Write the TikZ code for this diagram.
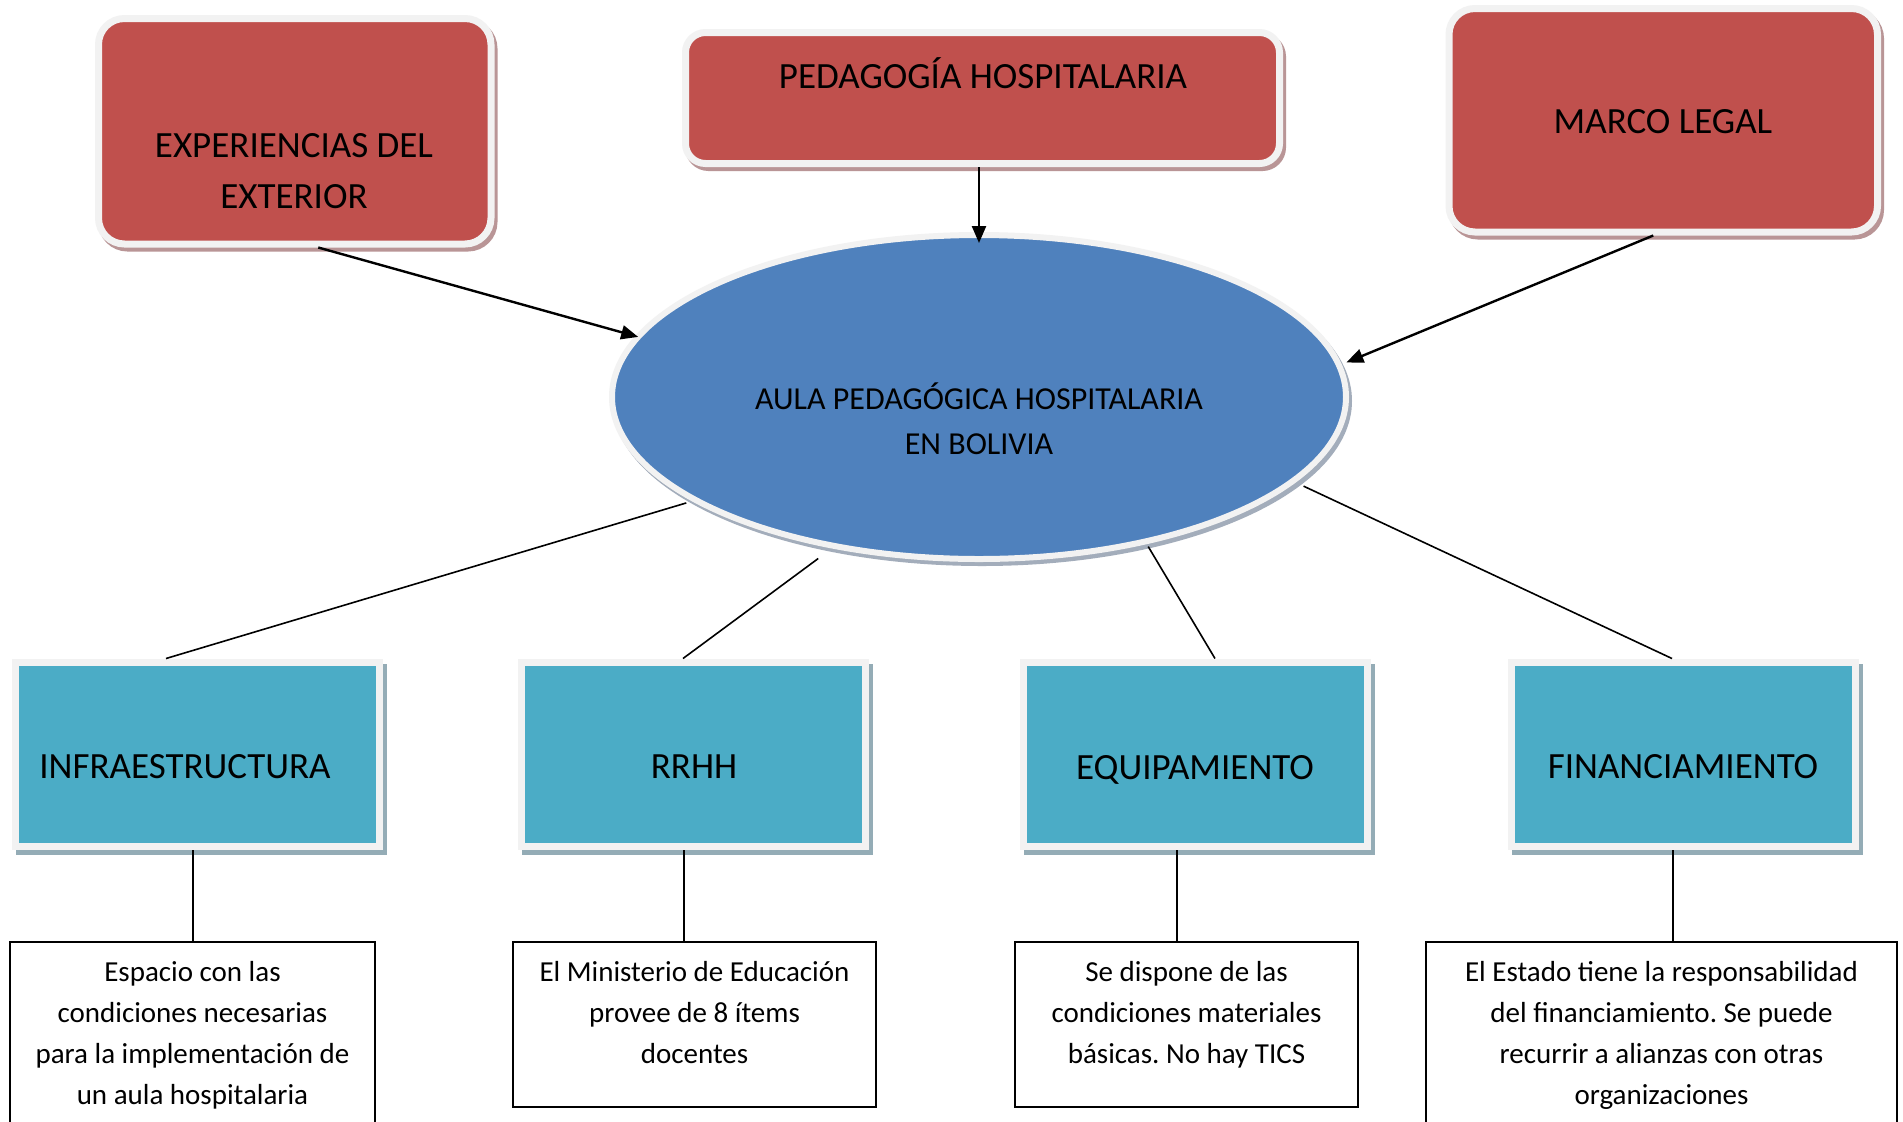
\documentclass[tikz,border=0pt]{standalone}
\usepackage{fontspec}
\setmainfont{Carlito}
\usetikzlibrary{arrows.meta,shapes.geometric,shadows}
\frenchspacing

\definecolor{redfill}{HTML}{C0504D}
\definecolor{tealfill}{HTML}{4BACC6}
\definecolor{bluefill}{HTML}{4F81BD}
\definecolor{rim}{HTML}{F2F2F2}
\definecolor{redshade}{HTML}{B99596}
\definecolor{tealshade}{HTML}{94ACB6}
\definecolor{blueshade}{HTML}{A3ADBB}

\begin{document}
\begin{tikzpicture}[
  x=0.5pt, y=-0.5pt,
  redbox/.style={rectangle,rounded corners=13pt,fill=redfill,draw=rim,line width=3.5pt,
    general shadow={fill=redshade,draw=redshade,line width=3.5pt,shadow xshift=1.5pt,shadow yshift=-2pt}},
  tealbox/.style={rectangle,fill=tealfill,draw=rim,line width=3.5pt,minimum height=92.25pt,
    general shadow={fill=tealshade,draw=tealshade,line width=3.5pt,shadow xshift=2pt,shadow yshift=-2.5pt}},
  hub/.style={ellipse,fill=bluefill,draw=rim,line width=3pt,inner sep=0pt,outer sep=0pt,
    general shadow={fill=blueshade,draw=blueshade,line width=3pt,shadow xshift=1.5pt,shadow yshift=-2pt}},
  descbox/.style={rectangle,draw=black,line width=1pt,fill=white},
  redtext/.style={font=\fontsize{18.5}{25.5}\selectfont,align=center,inner sep=0pt},
  tealtext/.style={font=\fontsize{18.5}{22}\selectfont,inner sep=0pt},
  hubtext/.style={font=\fontsize{16}{22.5}\selectfont,align=center,inner sep=0pt},
  desctext/.style={font=\fontsize{14.5}{20.5}\selectfont,align=center,inner sep=0pt},
  arrowline/.style={line width=1.2pt,-{Triangle[length=8.5pt,width=7pt]}},
  plainline/.style={line width=0.8pt}
]
\path[use as bounding box,fill=white] (0,0) rectangle (1903,1121);

% ------------------------------------------------------------
% Upper boxes and the central ellipse
% ------------------------------------------------------------
\node[redbox,minimum width=196.25pt,minimum height=112.75pt] (exp) at (294.75,131.25) {};
\node[redtext] (exp-text) at (294,171) {EXPERIENCIAS DEL\\EXTERIOR};

\node[redbox,rounded corners=10pt,minimum width=297pt,minimum height=65.5pt] (ped) at (982.5,98) {};
\node[redtext] (ped-text) at (983,73) {PEDAGOGÍA HOSPITALARIA};

\node[redbox,minimum width=214.25pt,minimum height=111.75pt] (marco) at (1663.25,120.25) {};
\node[redtext] (marco-text) at (1663,122) {MARCO LEGAL};

\node[hub,minimum width=367pt,minimum height=162pt] (aula) at (979,397) {};
\node[hubtext] (aula-text) at (979,419) {AULA PEDAGÓGICA HOSPITALARIA\\EN BOLIVIA};

% arrows into the ellipse
\draw[arrowline] ([xshift=11.75pt]exp.south) -- (aula.170);
\draw[arrowline,shorten >=-4pt] (aula.north |- ped.south) -- (aula.north);
\draw[arrowline,shorten >=4pt] ([xshift=-5pt]marco.south) -- (aula.5);

% ------------------------------------------------------------
% The four components
% ------------------------------------------------------------
\node[tealbox,minimum width=182pt] (infra) at (197.5,754.25) {};
\node[tealtext] (infra-text) at (185,767) {INFRAESTRUCTURA};

\node[tealbox,minimum width=172pt] (rrhh) at (693.5,754.25) {};
\node[tealtext] (rrhh-text) at (694,767) {RRHH};

\node[tealbox,minimum width=172pt] (equip) at (1195.5,754.25) {};
\node[tealtext] (equip-text) at (1195,769.5) {EQUIPAMIENTO};

\node[tealbox,minimum width=172pt] (fin) at (1683,754.25) {};
\node[tealtext] (fin-text) at (1683,767) {FINANCIAMIENTO};

\draw[plainline,shorten <=5pt] (aula.200) -- ([xshift=-15.75pt]infra.north);
\draw[plainline,shorten <=10.5pt] (aula.226) -- ([xshift=-5.25pt]rrhh.north);
\draw[plainline,shorten <=3pt] (aula.319) -- ([xshift=9.75pt]equip.north);
\draw[plainline,shorten <=6pt] (aula.345) -- ([xshift=-5.5pt]fin.north);

% ------------------------------------------------------------
% Descriptions
% ------------------------------------------------------------
\node[descbox,minimum width=182.5pt,minimum height=99pt] (infra-desc) at (192.5,1041) {};
\node[desctext,anchor=north] (infra-desc-text) at ([yshift=-10pt]infra-desc.north)
  {Espacio con las\\condiciones necesarias\\para la implementación de\\un aula hospitalaria};

\node[descbox,minimum width=181.5pt,minimum height=82.5pt] (rrhh-desc) at (694.5,1024.5) {};
\node[desctext,anchor=north] (rrhh-desc-text) at ([yshift=-10pt]rrhh-desc.north)
  {El Ministerio de Educación\\provee de 8 ítems\\docentes};

\node[descbox,minimum width=171.5pt,minimum height=82.5pt] (equip-desc) at (1186.5,1024.5) {};
\node[desctext,anchor=north] (equip-desc-text) at ([yshift=-10pt]equip-desc.north)
  {Se dispone de las\\condiciones materiales\\básicas. No hay TICS};

\node[descbox,minimum width=235.5pt,minimum height=99pt] (fin-desc) at (1661.5,1041) {};
\node[desctext,anchor=north] (fin-desc-text) at ([yshift=-10pt]fin-desc.north)
  {El Estado tiene la responsabilidad\\del financiamiento. Se puede\\recurrir a alianzas con otras\\organizaciones};

\draw[plainline] ([xshift=-2.25pt]infra.south) -- ([xshift=-2.25pt]infra.south |- infra-desc.north);
\draw[plainline] ([xshift=-4.75pt]rrhh.south) -- ([xshift=-4.75pt]rrhh.south |- rrhh-desc.north);
\draw[plainline] ([xshift=-9.25pt]equip.south) -- ([xshift=-9.25pt]equip.south |- equip-desc.north);
\draw[plainline] ([xshift=-5pt]fin.south) -- ([xshift=-5pt]fin.south |- fin-desc.north);

\end{tikzpicture}
\end{document}
